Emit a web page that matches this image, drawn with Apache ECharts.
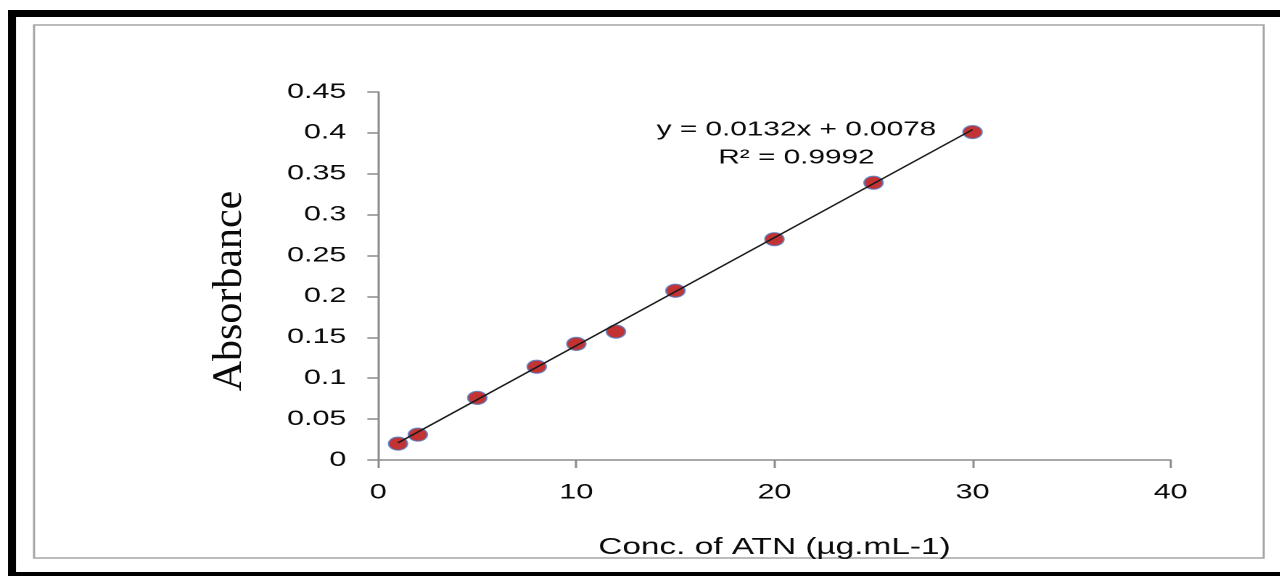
<!DOCTYPE html>
<html>
<head>
<meta charset="utf-8">
<script src="https://cdn.jsdelivr.net/npm/echarts@6/dist/echarts.min.js"></script>
<style>
  html, body { margin: 0; padding: 0; background: #ffffff; overflow: hidden; }
  #main { position: absolute; left: 0; top: 0; height: 576px; transform-origin: 0 0; }
</style>
</head>
<body>
<div id="main"></div>
<script>
// ---- data ----
const concentrations = [1, 2, 5, 8, 10, 12, 15, 20, 25, 30];
const absorbance = [0.020, 0.031, 0.076, 0.114, 0.142, 0.157, 0.207, 0.270, 0.339, 0.401];
const trendX = [1, 30];
const trendY = [0.021, 0.404];
const equationLines = ['y = 0.0132x + 0.0078', 'R\u00B2 = 0.9992'];
const xAxisTitle = 'Conc. of ATN (\u00B5g.mL-1)';
const yAxisTitle = 'Absorbance';
const xRange = [0, 40, 10];
const yRange = [0, 0.45, 0.05];

// ---- layout (reference is horizontally stretched) ----
const S = 1.45;
const W = 1280 / S;
const el = document.getElementById('main');
el.style.width = W + 'px';
el.style.transform = 'scaleX(' + S + ')';

const chart = echarts.init(el, null, { width: W, height: 576, devicePixelRatio: 2 });

const scatterData = concentrations.map((c, i) => [c, absorbance[i]]);
const trendData = trendX.map((c, i) => [c, trendY[i]]);

const sansFont = '"Liberation Sans", Arial, sans-serif';

chart.setOption({
  backgroundColor: '#ffffff',
  animation: false,
  grid: {
    left: 378 / S,
    right: (1280 - 1170) / S,
    top: 92,
    bottom: 576 - 460,
    containLabel: false
  },
  xAxis: {
    type: 'value',
    min: xRange[0], max: xRange[1], interval: xRange[2],
    name: xAxisTitle,
    nameLocation: 'middle',
    nameGap: 76,
    nameTextStyle: { fontFamily: sansFont, fontSize: 23, color: '#0a0a0a' },
    axisLine: { show: true, lineStyle: { color: '#8c8c8c', width: 1.5 } },
    axisTick: { show: true, inside: false, length: 8, lineStyle: { color: '#8c8c8c', width: 1.5 } },
    axisLabel: { fontFamily: sansFont, fontSize: 21, color: '#0a0a0a', margin: 22 },
    splitLine: { show: false }
  },
  yAxis: {
    type: 'value',
    min: yRange[0], max: yRange[1], interval: yRange[2],
    axisLine: { show: true, lineStyle: { color: '#8c8c8c', width: 1.5 } },
    axisTick: { show: true, inside: false, length: 7.5, lineStyle: { color: '#8c8c8c', width: 1.5 } },
    axisLabel: { fontFamily: sansFont, fontSize: 21, color: '#0a0a0a', margin: 22 },
    splitLine: { show: false }
  },
  series: [
    {
      type: 'scatter',
      data: scatterData,
      symbol: 'circle',
      symbolSize: 13,
      itemStyle: { color: '#b50000', borderColor: '#4f7cc4', borderWidth: 1.2 },
      z: 2
    },
    {
      type: 'line',
      data: trendData,
      showSymbol: false,
      symbol: 'none',
      lineStyle: { color: '#1a1a1a', width: 1.4 },
      z: 3,
      silent: true
    }
  ],
  graphic: [
    // outer black frame
    { type: 'rect', silent: true, shape: { x: 8 / S, y: 10, width: (1290 - 8) / S, height: 7 }, style: { fill: '#000' } },
    { type: 'rect', silent: true, shape: { x: 8 / S, y: 10, width: 8 / S, height: 570 }, style: { fill: '#000' } },
    { type: 'rect', silent: true, shape: { x: 8 / S, y: 572, width: (1290 - 8) / S, height: 8 }, style: { fill: '#000' } },
    // inner grey frame
    { type: 'rect', silent: true, shape: { x: 34 / S, y: 25, width: (1263 - 34) / S, height: 533 }, style: { fill: 'none', stroke: '#a6a6a6', lineWidth: 1.5 } },
    // y axis title (serif, not stretched)
    {
      type: 'text', silent: true,
      x: 230 / S, y: 291,
      rotation: Math.PI / 2,
      scaleY: 1 / S,
      style: {
        text: yAxisTitle,
        font: '42px "Liberation Serif", "Times New Roman", serif',
        fill: '#0a0a0a',
        align: 'center',
        verticalAlign: 'middle'
      }
    },
    // trendline equation
    {
      type: 'text', silent: true,
      x: 796 / S, y: 144,
      style: {
        text: equationLines.join('\n'),
        font: '20.5px "Liberation Sans", Arial, sans-serif',
        lineHeight: 28,
        fill: '#0a0a0a',
        align: 'center',
        verticalAlign: 'middle'
      }
    }
  ]
});
</script>
</body>
</html>
